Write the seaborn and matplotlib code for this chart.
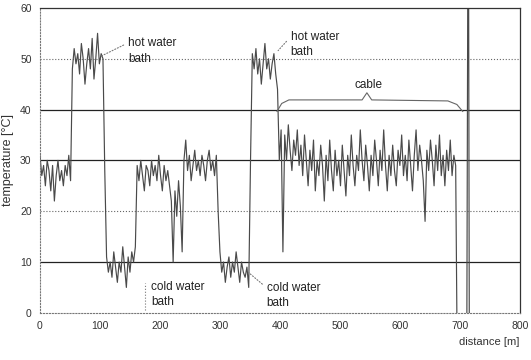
import matplotlib
matplotlib.use('Agg')
import matplotlib.pyplot as plt
import seaborn as sns
import numpy as np
import pandas as pd

# sampling interval of the trace along the fibre [m]
STEP_M = 3

# temperature readings [C], one list per section of the fibre, in order
start_section = [31, 27, 29, 25, 30, 28, 24, 29, 22, 27, 30, 26, 28, 25, 29, 27, 31, 26]
hot_bath_1 = [48, 52, 49, 51, 47, 53, 50, 45, 49, 52, 48, 54, 46, 50, 55, 49, 51, 50]
drop_1 = [28]
cold_bath_1 = [11, 8, 10, 7, 12, 9, 6, 10, 8, 13, 9, 5, 11, 8, 12, 10, 13]
middle_section = [29, 26, 30, 27, 24, 29, 28, 25, 30, 27, 29, 26, 31, 27, 24, 29, 26, 28, 25]
dip_section = [22, 10, 24, 19, 26, 21, 12]
room_section = [30, 34, 28, 31, 26, 29, 32, 28, 30, 27, 31, 29, 26, 30, 32, 28, 30, 27, 31]
drop_2 = [20]
cold_bath_2 = [12, 8, 10, 6, 9, 11, 7, 10, 8, 12, 9, 6, 10, 8, 7, 9, 5]
rise_1 = [30]
hot_bath_2 = [51, 48, 52, 47, 50, 45, 49, 53, 48, 50, 46, 49, 51, 47, 44]
drop_3 = [30]
cable = [36, 12, 35, 30, 37, 32, 28, 34, 31, 36,
         29, 33, 27, 35, 30, 25, 32, 28, 34, 24,
         30, 27, 33, 29, 22, 31, 26, 34, 28, 24,
         32, 27, 30, 25, 33, 28, 23, 31, 27, 35,
         29, 25, 31, 28, 36, 30, 26, 33, 29, 24,
         31, 27, 34, 30, 25, 32, 28, 36, 29, 24,
         31, 27, 33, 28, 25, 32, 29, 35, 27, 31,
         26, 34, 29, 24, 31, 36, 28, 33, 30, 26,
         18, 32, 28, 34, 30, 25, 33, 28, 35, 27,
         31, 25, 32, 28, 34, 27, 31, 29]
fibre_end = [-15, -10, -20, -12, -18, -30, 100, -80]

sections = [start_section, hot_bath_1, drop_1, cold_bath_1, middle_section, dip_section,
            room_section, drop_2, cold_bath_2, rise_1, hot_bath_2, drop_3, cable, fibre_end]

temperature = np.concatenate(sections)
distance = np.arange(len(temperature)) * STEP_M
df = pd.DataFrame({"distance": distance, "temperature": temperature})

x_ticks = [0, 100, 200, 300, 400, 500, 600, 700, 800]
y_ticks = [0, 10, 20, 30, 40, 50, 60]

CABLE_FROM, CABLE_TO, CABLE_MID = 395, 705, 545

sns.set_style("white")
plt.rcParams['font.family'] = ['Liberation Sans', 'DejaVu Sans']

fig, ax = plt.subplots(figsize=(5.31, 3.6), dpi=100)
fig.subplots_adjust(left=0.0753, right=0.979, top=0.978, bottom=0.131)

sns.lineplot(data=df, x="distance", y="temperature", ax=ax, color="#4a4a4a",
             linewidth=0.85, estimator=None, sort=False)

ax.set_xlim(0, 800)
ax.set_ylim(0, 60)
ax.set_xticks(x_ticks)
ax.set_yticks(y_ticks)
ax.tick_params(direction="in", length=2, labelsize=7.5, colors="#333333", pad=6)

# horizontal grid, scanned look: some solid, some dotted
for val in [10, 30, 40]:
    ax.axhline(val, color="#222222", linewidth=0.9, zorder=0)
for val in [20, 50]:
    ax.axhline(val, color="#666666", linewidth=0.8, linestyle=":", zorder=0)

for side in ["top", "right"]:
    ax.spines[side].set_color("#333333")
    ax.spines[side].set_linewidth(0.9)
for side in ["left", "bottom"]:
    ax.spines[side].set_color("#777777")
    ax.spines[side].set_linewidth(0.8)
    ax.spines[side].set_linestyle(":")

ax.set_xlabel("distance [m]", loc="right", fontsize=8, color="#333333", labelpad=4)
ax.set_ylabel("temperature [°C]", fontsize=9, color="#333333", labelpad=4)

lead = dict(arrowstyle="-", linestyle=":", color="#777777", lw=0.8, shrinkA=1, shrinkB=0)
txt = dict(fontsize=8.5, color="#222222", linespacing=1.35)

ax.annotate("hot water\nbath", xy=(100, 50.4), xytext=(147, 54.2), ha="left", va="top",
            arrowprops=dict(lead, relpos=(0, 0.8)), **txt)
ax.annotate("hot water\nbath", xy=(397, 51.6), xytext=(418, 55.4), ha="left", va="top",
            arrowprops=dict(lead, relpos=(0, 0.8)), **txt)
ax.text(185, 6.2, "cold water\nbath", ha="left", va="top", **txt)
ax.plot([175, 175], [0.6, 5.9], color="#777777", lw=0.8, linestyle=":")
ax.annotate("cold water\nbath", xy=(348, 7.9), xytext=(378, 6.0), ha="left", va="top",
            arrowprops=dict(lead, relpos=(0, 0.8)), **txt)

# curly brace over the cable section
bx = [CABLE_FROM, CABLE_FROM + 8, CABLE_FROM + 20, CABLE_MID - 8, CABLE_MID,
      CABLE_MID + 8, CABLE_TO - 25, CABLE_TO - 10, CABLE_TO]
by = [39.6, 41.2, 41.9, 41.9, 43.3, 41.9, 41.7, 41.0, 39.6]
ax.plot(bx, by, color="#666666", lw=0.8)
ax.text(CABLE_MID + 3, 44.8, "cable", ha="center", va="center", **txt)

plt.savefig("out.png", dpi=100)
plt.close()
